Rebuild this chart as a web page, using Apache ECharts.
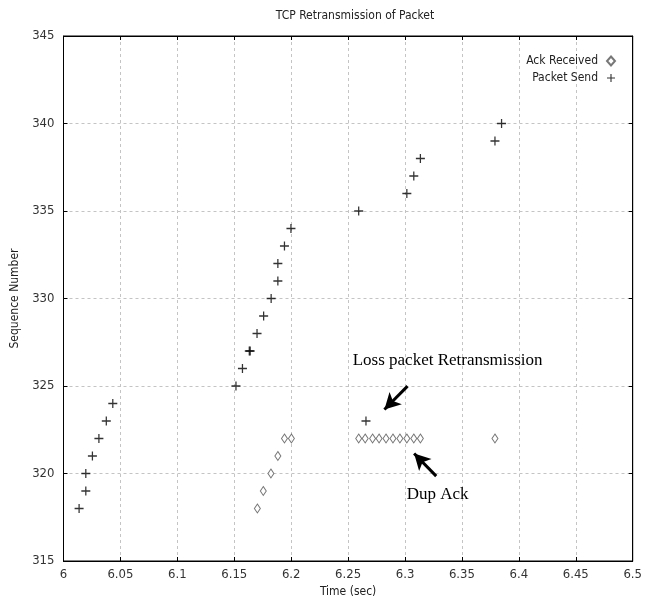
<!DOCTYPE html>
<html>
<head>
<meta charset="utf-8">
<script src="https://cdn.jsdelivr.net/npm/echarts@6/dist/echarts.min.js"></script>
<style>
html, body { margin: 0; padding: 0; background: #fff; }
#chart { width: 645px; height: 610px; }
</style>
</head>
<body>
<div id="chart"></div>
<script>
/* data */
var ackX = [6.1703, 6.1755, 6.1822, 6.1883, 6.1941, 6.2002,
    6.2593, 6.2650, 6.2715, 6.2772, 6.2833, 6.2894, 6.2955, 6.3016, 6.3077, 6.3135, 6.3790];
var ackY = [318, 319, 320, 321, 322, 322,
    322, 322, 322, 322, 322, 322, 322, 322, 322, 322, 322];
var sendX = [6.0137, 6.0196, 6.0196, 6.0254, 6.0311, 6.0376, 6.0433,
    6.1515, 6.1572, 6.1632, 6.1640, 6.1700, 6.1758, 6.1824, 6.1883, 6.1883, 6.1941, 6.1998,
    6.2593, 6.2657, 6.3016, 6.3077, 6.3135, 6.3790, 6.3848];
var sendY = [318, 319, 320, 321, 322, 323, 324,
    325, 326, 327, 327, 328, 329, 330, 331, 332, 333, 334,
    335, 323, 336, 337, 338, 339, 340];
var seriesNames = ['Ack Received', 'Packet Send'];
var notes = [
    { text: 'Loss packet Retransmission', at: [6.3374, 326.47], from: [6.3022, 324.99], to: [6.2819, 323.66] },
    { text: 'Dup Ack', at: [6.3287, 318.82], from: [6.3274, 319.85], to: [6.3080, 321.14] }
];

var chart = echarts.init(document.getElementById('chart'));
var narrow = '"Liberation Sans Narrow", "DejaVu Sans Condensed", "Liberation Sans", sans-serif';
var plus = 'path://M0,4.3H10V5.7H0Z M4.3,0H5.7V10H4.3Z';
var zip = function (xs, ys) { return xs.map(function (x, i) { return [x, ys[i]]; }); };
var fmt = function (v) { return String(+v.toFixed(2)); };

var gridLine = { show: true, lineStyle: { color: '#c4c4c4', type: [3, 3], width: 1 } };
var tickIn = { show: true, inside: true, length: 4, lineStyle: { color: '#000' } };

option = {
    animation: false,
    backgroundColor: '#fff',
    title: {
        text: 'TCP Retransmission of Packet',
        left: 350, top: 5, textAlign: 'center',
        textStyle: { fontFamily: narrow, fontSize: 12, fontWeight: 'normal', color: '#222' }
    },
    legend: {
        orient: 'vertical', right: 24, top: 50, align: 'right', itemGap: 5,
        itemWidth: 8, itemHeight: 9,
        textStyle: { fontFamily: narrow, fontSize: 12, color: '#222', padding: [0, 4, 0, 0] },
        data: seriesNames
    },
    grid: {
        left: 63.5, right: 7.5, top: 36, bottom: 49,
        show: true, borderColor: '#000', borderWidth: 1, containLabel: false
    },
    xAxis: [
        {
            type: 'value', min: 6, max: 6.5, interval: 0.05,
            name: 'Time (sec)', nameLocation: 'middle', nameGap: 22,
            nameTextStyle: { fontFamily: narrow, fontSize: 12, color: '#222' },
            axisLine: { show: true, lineStyle: { color: '#000' } },
            axisTick: tickIn,
            axisLabel: { fontFamily: narrow, fontSize: 13, color: '#333', margin: 7, formatter: fmt },
            splitLine: gridLine
        },
        {
            type: 'value', min: 6, max: 6.5, interval: 0.05, position: 'top',
            axisLine: { show: true, lineStyle: { color: '#000' } },
            axisTick: tickIn, axisLabel: { show: false }, splitLine: { show: false }
        }
    ],
    yAxis: [
        {
            type: 'value', min: 315, max: 345, interval: 5,
            name: 'Sequence Number', nameLocation: 'middle', nameGap: 42,
            nameTextStyle: { fontFamily: narrow, fontSize: 12, color: '#222' },
            axisLine: { show: true, lineStyle: { color: '#000' } },
            axisTick: tickIn,
            axisLabel: { fontFamily: narrow, fontSize: 13, color: '#333', margin: 9 },
            splitLine: gridLine
        },
        {
            type: 'value', min: 315, max: 345, interval: 5, position: 'right',
            axisLine: { show: true, lineStyle: { color: '#000' } },
            axisTick: tickIn, axisLabel: { show: false }, splitLine: { show: false }
        }
    ],
    series: [
        {
            name: seriesNames[0],
            type: 'scatter',
            symbol: 'diamond',
            symbolSize: [6, 9],
            itemStyle: { color: '#fff', borderColor: '#555', borderWidth: 1 },
            data: zip(ackX, ackY),
            markLine: {
                silent: true,
                symbol: ['none', 'arrow'],
                symbolSize: [13, 16],
                label: { show: false },
                lineStyle: { color: '#000', width: 3, type: 'solid' },
                data: notes.map(function (n) {
                    return [{ coord: n.from }, { coord: n.to }];
                })
            },
            markPoint: {
                silent: true,
                symbol: 'circle',
                symbolSize: 0,
                label: {
                    show: true, position: 'inside', formatter: '{b}',
                    fontFamily: '"Liberation Serif", "DejaVu Serif", serif', fontSize: 17, color: '#000'
                },
                data: notes.map(function (n) {
                    return { name: n.text, coord: n.at };
                })
            }
        },
        {
            name: seriesNames[1],
            type: 'scatter',
            symbol: plus,
            symbolSize: 9,
            itemStyle: { color: '#000' },
            data: zip(sendX, sendY)
        }
    ]
};
chart.setOption(option);
</script>
</body>
</html>
